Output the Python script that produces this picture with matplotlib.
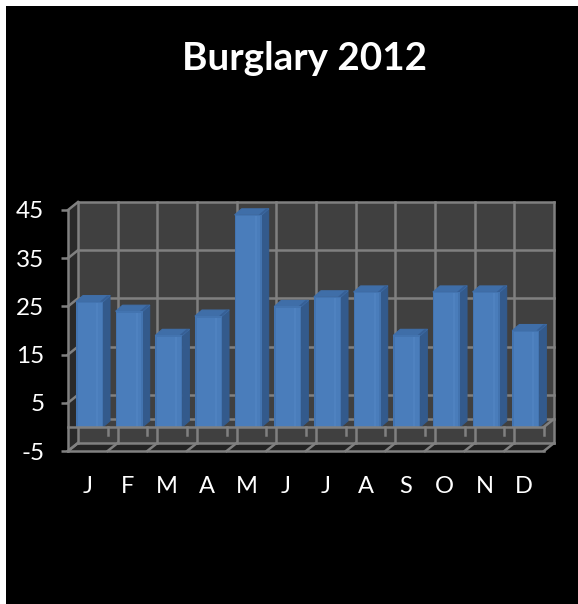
import matplotlib
matplotlib.use("Agg")
import matplotlib.pyplot as plt
from matplotlib.patches import Rectangle

months = ["J", "F", "M", "A", "M", "J", "J", "A", "S", "O", "N", "D"]
burglary = [26, 24, 19, 23, 44, 25, 27, 28, 19, 28, 28, 20]
y_ticks = [-5, 5, 15, 25, 35, 45]
title = "Burglary 2012"

W, H = 578, 604
FONT = "Lato"
GRID = "#808080"
fig = plt.figure(figsize=(W / 100, H / 100), dpi=100, facecolor="white")
fig.patches.append(Rectangle((6 / W, 0), 1, 1 - 6 / H, transform=fig.transFigure,
                             facecolor="black", edgecolor="none", zorder=-10))

left, right, top, bottom = 68, 544, 210, 451
ax = fig.add_axes([left / W, 1 - bottom / H, (right - left) / W, (bottom - top) / H])
ax.set_xlim(0, 12)
ax.set_ylim(-5, 45)
ax.patch.set_visible(False)
for s in ax.spines.values():
    s.set_visible(False)

px_x = 12 / (right - left)
px_y = 50 / (bottom - top)
dx, dy = 10 * px_x, 8 * px_y          # wall depth
lw = 1.8
n = len(months)
ymin, ymax = y_ticks[0], y_ticks[-1]

# walls
ax.fill([dx, n + dx, n + dx, dx], [ymin + dy, ymin + dy, ymax + dy, ymax + dy],
        color="#404040", lw=0, clip_on=False, zorder=1)
ax.fill([0, dx, dx, 0], [ymin, ymin + dy, ymax + dy, ymax],
        color="#2a2a2a", lw=0, clip_on=False, zorder=1)
ax.fill([0, n, n + dx, dx], [ymin, ymin, ymin + dy, ymin + dy],
        color="#232323", lw=0, clip_on=False, zorder=1)

# gridlines
kw = dict(color=GRID, lw=lw, clip_on=False, zorder=2, solid_capstyle="projecting")
for v in y_ticks + [0]:
    ax.plot([dx, n + dx], [v + dy, v + dy], **kw)
for v in y_ticks:
    ax.plot([0, dx], [v, v + dy], **kw)
for i in range(n + 1):
    ax.plot([i + dx, i + dx], [ymin + dy, ymax + dy], **kw)
    ax.plot([i, i + dx], [ymin, ymin + dy], **kw)
ax.plot([0, 0], [ymin, ymax], **kw)
ax.plot([0, n], [ymin, ymin], **kw)

# bars
bw = 27 * px_x
off = 8 * px_x
bdx, bdy = 7 * px_x, 6 * px_y
for i, v in enumerate(burglary):
    x0 = i + off
    x1 = x0 + bw
    ax.fill([x1, x1 + bdx, x1 + bdx, x1], [0, bdy, v + bdy, v], color="#335a8c", lw=0.8,
            ec="#335a8c", joinstyle="round", zorder=3, clip_on=False)
    ax.fill([x0, x1, x1 + bdx, x0 + bdx], [v, v, v + bdy, v + bdy], color="#3f6ea8", lw=0.8,
            ec="#3f6ea8", joinstyle="round", zorder=3, clip_on=False)
    ax.fill([x1 - 3 * px_x, x1, x1 + bdx, x1 + bdx - 3 * px_x], [v, v, v + bdy, v + bdy],
            color="#365f95", lw=0, zorder=3.1, clip_on=False)
ax.bar([i + off + bw / 2 for i in range(n)], burglary, width=bw, color="#4374b0",
       lw=0, zorder=4)
ax.bar([i + off + bw / 2 for i in range(n)], [v - 1.5 * px_y for v in burglary],
       width=bw - 3 * px_x, color="#4a7dbb", lw=0, zorder=4.1)
ax.bar([i + off + bw - 6 * px_x for i in range(n)], [v - 1.5 * px_y for v in burglary],
       width=2 * px_x, color="#4f82c0", lw=0, zorder=4.2)

# zero-level front line and category ticks
kw["zorder"] = 5
ax.plot([0, n], [0, 0], **kw)
ax.plot([n, n + dx], [0, dy], **kw)
for i in range(1, n + 1):
    ax.plot([i, i], [0, -8 * px_y], color=GRID, lw=lw, zorder=5, clip_on=False)

ax.set_yticks(y_ticks)
ax.set_yticklabels([str(v) for v in y_ticks], fontname=FONT, fontsize=17.5, color="white")
ax.tick_params(axis="y", length=5, width=lw, color=GRID, pad=12)
ax.set_xticks([i + 0.5 for i in range(n)])
ax.set_xticklabels(months, fontname=FONT, fontsize=17, color="white")
ax.tick_params(axis="x", length=0, pad=18)

fig.text(305 / W, 1 - 58 / H, title, ha="center", va="center", color="white",
         fontname=FONT, fontweight="bold", fontsize=27.8)

fig.savefig("out.png", dpi=100, facecolor="white")
